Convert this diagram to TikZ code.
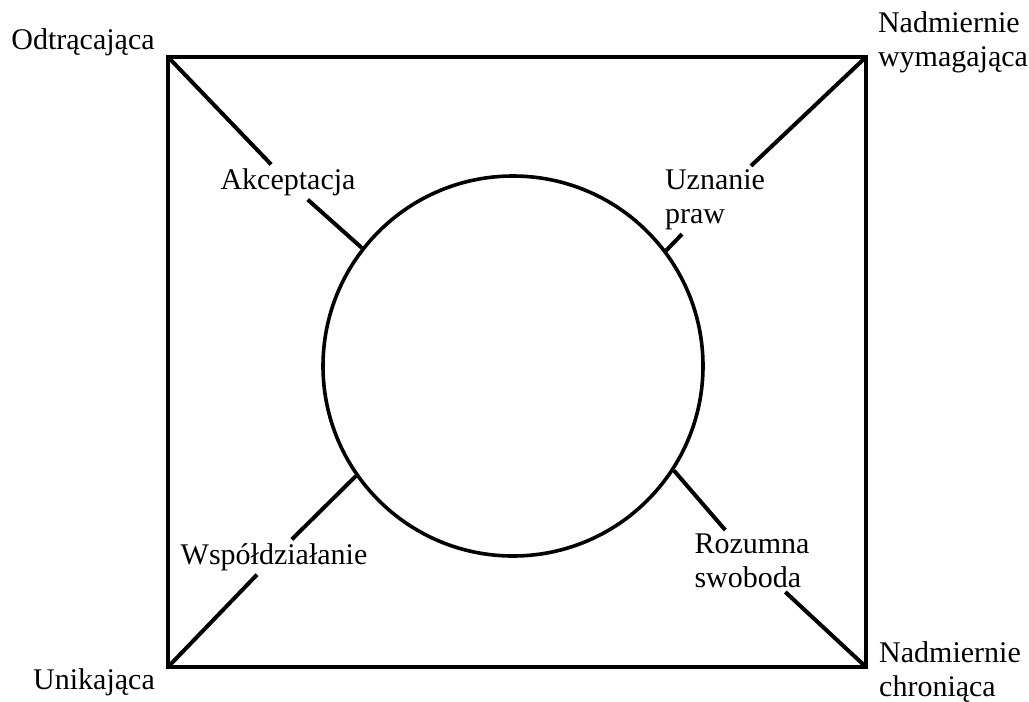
\documentclass[tikz,border=0pt]{standalone}
\usepackage{fontspec}
\setmainfont{Liberation Serif}
\usepackage{tikz}
\usetikzlibrary{calc, positioning}

\begin{document}
\begin{tikzpicture}[x=0.5pt, y=-0.5pt, line width=2pt,
        lab/.style={font=\fontsize{15}{17}\selectfont, inner sep=1pt, align=left}]
            \useasboundingbox (0,0) rectangle (1029,702);

            \coordinate (c1) at (168, 57);
            \coordinate (c2) at (866, 57);
            \coordinate (c3) at (866, 667);
            \coordinate (c4) at (168, 667);
            \draw[line join=miter] (c1) -- (c2) -- (c3) -- (c4) -- cycle;

            \node[draw, circle, minimum size=190pt, inner sep=0pt, line width=1.8pt] (k) at (513, 366) {};

            \node[lab] (s1) at (83, 42) {Odtrącająca};
            \node[lab] (s2) at (953, 42) {Nadmiernie\\wymagająca};
            \node[lab] (s3) at (950, 672) {Nadmiernie\\chroniąca};
            \node[lab] (s4) at (94, 682) {Unikająca};

            \node[lab] (p1) at (288, 182) {Akceptacja};
            \node[lab] (p2) at (715, 200) {Uznanie\\praw};
            \node[lab] (p3) at (752, 561) {Rozumna\\swoboda};
            \node[lab] (p4) at (274, 557) {Współdziałanie};

            \draw (c1) -- (p1) -- (k.142);
            \draw (c2) -- (p2) -- (k.37);
            \draw (c3) -- (p3) -- (k.327);
            \draw (c4) -- (p4) -- (k.215);
        \end{tikzpicture}
\end{document}
